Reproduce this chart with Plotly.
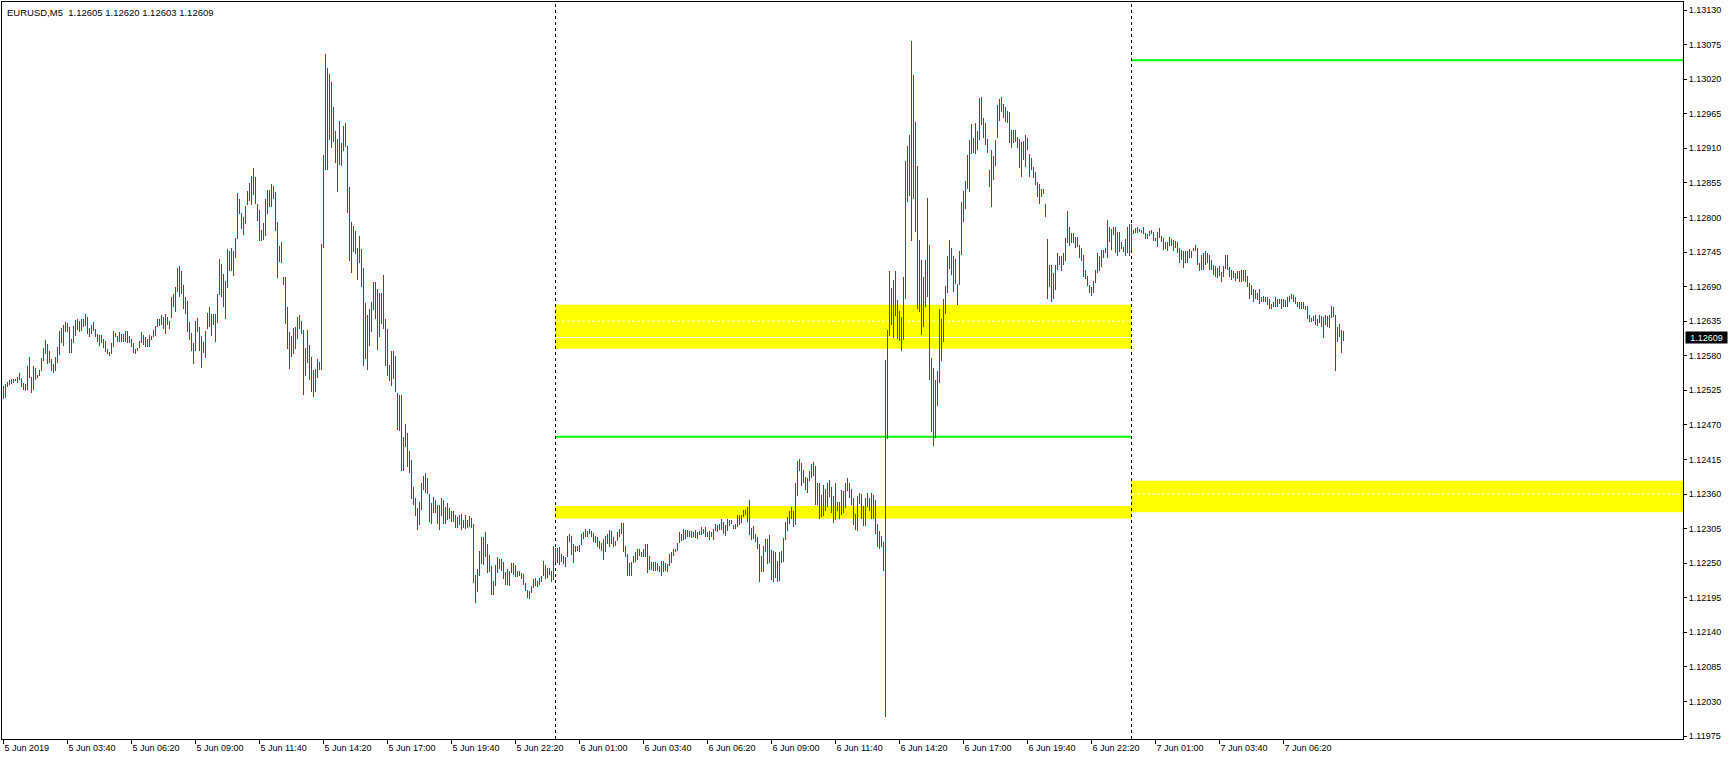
import plotly.graph_objects as go

# ---------------- data ----------------
symbol = "EURUSD,M5"
last_ohlc = [1.12605, 1.12620, 1.12603, 1.12609]   # open, high, low, close of last bar

# 5 Jun 2019 01:00 ... 23:55 (M5 bars)
day5_high = [
 1.12532,1.12535,1.12538,1.12541,1.12543,1.12543,1.12543,1.12546,1.12553,1.12544,
 1.12537,1.12535,1.12564,1.12578,1.12546,1.12564,1.12560,1.12550,1.12557,1.12576,
 1.12592,1.12605,1.12599,1.12587,1.12574,1.12567,1.12578,1.12594,1.12619,1.12624,
 1.12629,1.12634,1.12632,1.12625,1.12607,1.12627,1.12637,1.12638,1.12635,1.12638,
 1.12639,1.12646,1.12642,1.12624,1.12629,1.12634,1.12622,1.12615,1.12613,1.12613,
 1.12606,1.12603,1.12591,1.12586,1.12601,1.12619,1.12616,1.12611,1.12618,1.12614,
 1.12615,1.12619,1.12619,1.12611,1.12606,1.12601,1.12590,1.12592,1.12603,1.12618,
 1.12613,1.12609,1.12607,1.12613,1.12611,1.12621,1.12627,1.12638,1.12638,1.12645,
 1.12642,1.12646,1.12642,1.12635,1.12674,1.12678,1.12690,1.12720,1.12722,1.12715,
 1.12693,1.12674,1.12667,1.12634,1.12616,1.12600,1.12635,1.12640,1.12626,1.12612,
 1.12602,1.12619,1.12648,1.12657,1.12646,1.12647,1.12647,1.12678,1.12734,1.12726,
 1.12710,1.12699,1.12750,1.12746,1.12751,1.12746,1.12767,1.12839,1.12829,1.12807,
 1.12801,1.12818,1.12842,1.12855,1.12866,1.12878,1.12865,1.12822,1.12812,1.12780,
 1.12791,1.12830,1.12843,1.12844,1.12853,1.12850,1.12840,1.12792,1.12754,1.12761,
 1.12706,1.12706,1.12658,1.12618,1.12612,1.12624,1.12626,1.12642,1.12644,1.12635,
 1.12621,1.12592,1.12621,1.12597,1.12578,1.12557,1.12559,1.12575,1.12570,1.12758,
 1.12899,1.13060,1.13038,1.13028,1.13015,1.12976,1.12938,1.12924,1.12954,1.12919,
 1.12945,1.12951,1.12913,1.12849,1.12792,1.12787,1.12779,1.12751,1.12770,1.12749,
 1.12720,1.12664,1.12645,1.12655,1.12666,1.12697,1.12697,1.12686,1.12679,1.12679,
 1.12708,1.12639,1.12622,1.12565,1.12587,1.12588,1.12580,1.12521,1.12517,1.12517,
 1.12451,1.12471,1.12457,1.12429,1.12414,1.12371,1.12353,1.12338,1.12348,1.12377,
 1.12388,1.12394,1.12385,1.12360,1.12346,1.12356,1.12350,1.12342,1.12342,1.12353,
 1.12350,1.12339,1.12346,1.12338,1.12333,1.12333,1.12327,1.12324,1.12326,1.12328,
 1.12319,1.12326,1.12319,1.12325,1.12322,1.12313,1.12231,1.12240,1.12269,1.12291,
 1.12291,1.12299,1.12280,1.12263,1.12245,1.12222,1.12247,1.12260,1.12256,1.12256,
 1.12252,1.12236,1.12240,1.12237,1.12251,1.12250,1.12247,1.12238,1.12237,1.12234,
 1.12232,1.12219,1.12207,1.12206,1.12214,1.12225,1.12226,1.12222,1.12227,1.12230,
 1.12253,1.12247,1.12243,1.12243,1.12237,1.12277,
]
day5_low = [
 1.12511,1.12512,1.12530,1.12533,1.12535,1.12536,1.12539,1.12536,1.12541,1.12530,
 1.12525,1.12524,1.12525,1.12544,1.12521,1.12526,1.12541,1.12545,1.12548,1.12555,
 1.12571,1.12583,1.12567,1.12568,1.12556,1.12553,1.12556,1.12569,1.12581,1.12601,
 1.12595,1.12617,1.12617,1.12584,1.12584,1.12601,1.12612,1.12621,1.12617,1.12619,
 1.12626,1.12627,1.12615,1.12609,1.12615,1.12620,1.12609,1.12602,1.12595,1.12601,
 1.12593,1.12586,1.12582,1.12580,1.12583,1.12594,1.12609,1.12602,1.12602,1.12602,
 1.12602,1.12602,1.12601,1.12601,1.12594,1.12584,1.12582,1.12587,1.12593,1.12601,
 1.12597,1.12594,1.12594,1.12594,1.12605,1.12609,1.12612,1.12626,1.12627,1.12629,
 1.12622,1.12614,1.12629,1.12623,1.12640,1.12658,1.12650,1.12681,1.12674,1.12678,
 1.12655,1.12647,1.12617,1.12605,1.12588,1.12567,1.12588,1.12617,1.12588,1.12561,
 1.12584,1.12577,1.12622,1.12626,1.12612,1.12629,1.12602,1.12632,1.12677,1.12674,
 1.12658,1.12638,1.12688,1.12715,1.12715,1.12707,1.12736,1.12766,1.12805,1.12782,
 1.12772,1.12790,1.12819,1.12826,1.12820,1.12835,1.12821,1.12795,1.12762,1.12763,
 1.12764,1.12771,1.12806,1.12817,1.12817,1.12829,1.12779,1.12704,1.12729,1.12728,
 1.12693,1.12631,1.12591,1.12559,1.12578,1.12582,1.12591,1.12607,1.12622,1.12615,
 1.12518,1.12547,1.12568,1.12541,1.12523,1.12515,1.12523,1.12545,1.12557,1.12558,
 1.12752,1.12876,1.12876,1.12923,1.12910,1.12920,1.12886,1.12840,1.12883,1.12882,
 1.12906,1.12912,1.12807,1.12731,1.12711,1.12745,1.12742,1.12700,1.12727,1.12690,
 1.12564,1.12575,1.12558,1.12595,1.12618,1.12652,1.12638,1.12589,1.12610,1.12631,
 1.12623,1.12564,1.12547,1.12540,1.12532,1.12543,1.12522,1.12462,1.12461,1.12397,
 1.12396,1.12434,1.12403,1.12393,1.12352,1.12342,1.12325,1.12302,1.12310,1.12334,
 1.12366,1.12362,1.12360,1.12315,1.12312,1.12330,1.12329,1.12313,1.12302,1.12325,
 1.12313,1.12313,1.12319,1.12321,1.12316,1.12316,1.12306,1.12306,1.12310,1.12302,
 1.12306,1.12304,1.12306,1.12307,1.12306,1.12218,1.12187,1.12204,1.12230,1.12249,
 1.12247,1.12260,1.12235,1.12236,1.12199,1.12199,1.12214,1.12234,1.12240,1.12238,
 1.12225,1.12216,1.12215,1.12213,1.12234,1.12231,1.12228,1.12228,1.12230,1.12225,
 1.12216,1.12206,1.12194,1.12193,1.12203,1.12211,1.12213,1.12212,1.12216,1.12220,
 1.12230,1.12225,1.12226,1.12231,1.12220,1.12223,
]

# 6 Jun 2019 00:00 ... 23:55
day6_high = [
 1.12274,1.12274,1.12276,1.12265,1.12261,1.12259,1.12293,1.12296,1.12293,1.12280,
 1.12278,1.12278,1.12279,1.12296,1.12300,1.12304,1.12301,1.12304,1.12301,1.12298,
 1.12293,1.12291,1.12285,1.12282,1.12289,1.12293,1.12296,1.12303,1.12301,1.12291,
 1.12285,1.12299,1.12305,1.12314,1.12314,1.12277,1.12264,1.12250,1.12252,1.12262,
 1.12268,1.12272,1.12273,1.12268,1.12272,1.12281,1.12280,1.12261,1.12252,1.12252,
 1.12252,1.12250,1.12245,1.12253,1.12253,1.12251,1.12248,1.12264,1.12267,1.12273,
 1.12273,1.12282,1.12299,1.12296,1.12304,1.12303,1.12303,1.12301,1.12301,1.12300,
 1.12303,1.12300,1.12301,1.12307,1.12304,1.12307,1.12300,1.12301,1.12300,1.12304,
 1.12312,1.12310,1.12312,1.12320,1.12316,1.12310,1.12320,1.12318,1.12318,1.12310,
 1.12312,1.12326,1.12326,1.12327,1.12334,1.12334,1.12339,1.12350,1.12306,1.12309,
 1.12297,1.12292,1.12280,1.12261,1.12278,1.12289,1.12289,1.12295,1.12271,1.12270,
 1.12268,1.12254,1.12268,1.12270,1.12290,1.12315,1.12323,1.12333,1.12339,1.12333,
 1.12377,1.12413,1.12416,1.12410,1.12398,1.12387,1.12385,1.12397,1.12407,1.12411,
 1.12404,1.12377,1.12377,1.12358,1.12374,1.12368,1.12378,1.12382,1.12371,1.12357,
 1.12378,1.12348,1.12348,1.12366,1.12365,1.12378,1.12386,1.12377,1.12368,1.12353,
 1.12328,1.12357,1.12361,1.12360,1.12341,1.12353,1.12361,1.12354,1.12361,1.12359,
 1.12350,1.12313,1.12301,1.12293,1.12284,1.12573,1.12621,1.12715,1.12688,1.12701,
 1.12715,1.12668,1.12651,1.12641,1.12705,1.12889,1.12913,1.12931,1.13081,1.13026,
 1.12952,1.12882,1.12764,1.12732,1.12706,1.12732,1.12831,1.12756,1.12576,1.12560,
 1.12542,1.12555,1.12655,1.12638,1.12670,1.12691,1.12739,1.12764,1.12752,1.12738,
 1.12734,1.12694,1.12747,1.12824,1.12842,1.12858,1.12899,1.12923,1.12949,1.12927,
 1.12950,1.12937,1.12990,1.12992,1.12958,1.12951,1.12924,1.12875,1.12908,1.12898,
 1.12923,1.12979,1.12988,1.12992,1.12981,1.12975,1.12970,1.12967,1.12939,1.12939,
 1.12939,1.12928,1.12924,1.12920,1.12922,1.12931,1.12926,1.12901,1.12894,1.12881,
 1.12873,1.12857,1.12853,1.12845,1.12846,1.12822,1.12766,1.12724,1.12724,1.12711,
 1.12724,1.12743,1.12739,1.12738,1.12744,1.12767,1.12810,1.12785,1.12776,1.12776,
 1.12769,1.12769,1.12756,1.12751,1.12740,1.12716,1.12707,1.12692,1.12690,1.12699,
 1.12717,1.12743,1.12739,1.12748,1.12748,1.12751,1.12796,1.12784,1.12782,1.12785,
 1.12785,1.12777,1.12777,1.12761,1.12753,1.12766,1.12785,1.12789,
]
day6_low = [
 1.12250,1.12250,1.12247,1.12252,1.12248,1.12244,1.12260,1.12284,1.12263,1.12251,
 1.12267,1.12270,1.12268,1.12279,1.12288,1.12292,1.12291,1.12296,1.12291,1.12284,
 1.12282,1.12276,1.12273,1.12270,1.12255,1.12267,1.12281,1.12275,1.12281,1.12276,
 1.12278,1.12286,1.12291,1.12297,1.12268,1.12260,1.12230,1.12230,1.12229,1.12251,
 1.12252,1.12255,1.12261,1.12260,1.12260,1.12260,1.12234,1.12239,1.12239,1.12237,
 1.12238,1.12238,1.12236,1.12230,1.12236,1.12238,1.12236,1.12245,1.12251,1.12262,
 1.12268,1.12269,1.12282,1.12285,1.12287,1.12288,1.12292,1.12292,1.12290,1.12292,
 1.12290,1.12288,1.12294,1.12295,1.12297,1.12292,1.12292,1.12287,1.12292,1.12287,
 1.12301,1.12300,1.12303,1.12303,1.12297,1.12293,1.12301,1.12309,1.12312,1.12305,
 1.12305,1.12308,1.12310,1.12314,1.12323,1.12326,1.12316,1.12295,1.12287,1.12289,
 1.12284,1.12272,1.12220,1.12236,1.12236,1.12267,1.12248,1.12250,1.12223,1.12220,
 1.12227,1.12220,1.12221,1.12250,1.12252,1.12287,1.12301,1.12313,1.12320,1.12308,
 1.12310,1.12357,1.12396,1.12373,1.12378,1.12366,1.12362,1.12381,1.12386,1.12388,
 1.12342,1.12342,1.12321,1.12323,1.12325,1.12333,1.12340,1.12356,1.12330,1.12314,
 1.12318,1.12333,1.12321,1.12326,1.12329,1.12337,1.12365,1.12353,1.12342,1.12310,
 1.12303,1.12301,1.12344,1.12321,1.12309,1.12309,1.12340,1.12333,1.12320,1.12320,
 1.12297,1.12275,1.12272,1.12276,1.12238,1.12005,1.12447,1.12612,1.12629,1.12608,
 1.12643,1.12606,1.12604,1.12588,1.12605,1.12671,1.12824,1.12834,1.12763,1.12829,
 1.12777,1.12655,1.12649,1.12613,1.12626,1.12657,1.12674,1.12542,1.12459,1.12436,
 1.12449,1.12500,1.12536,1.12572,1.12602,1.12646,1.12680,1.12718,1.12708,1.12682,
 1.12694,1.12661,1.12693,1.12740,1.12792,1.12813,1.12845,1.12840,1.12901,1.12902,
 1.12901,1.12907,1.12923,1.12947,1.12926,1.12916,1.12903,1.12849,1.12817,1.12860,
 1.12882,1.12926,1.12954,1.12968,1.12958,1.12952,1.12951,1.12919,1.12910,1.12918,
 1.12920,1.12910,1.12879,1.12865,1.12891,1.12881,1.12907,1.12865,1.12875,1.12862,
 1.12852,1.12833,1.12822,1.12833,1.12838,1.12801,1.12670,1.12690,1.12665,1.12671,
 1.12685,1.12716,1.12724,1.12715,1.12724,1.12731,1.12759,1.12755,1.12760,1.12760,
 1.12751,1.12753,1.12735,1.12731,1.12706,1.12702,1.12691,1.12679,1.12675,1.12679,
 1.12695,1.12712,1.12715,1.12721,1.12736,1.12743,1.12736,1.12761,1.12748,1.12772,
 1.12744,1.12738,1.12745,1.12749,1.12745,1.12739,1.12744,1.12739,
]

# 7 Jun 2019 00:00 ... 08:50
day7_high = [
 1.12789,1.12780,1.12783,1.12784,1.12782,1.12780,1.12784,1.12776,1.12773,1.12778,
 1.12780,1.12777,1.12767,1.12777,1.12783,1.12771,1.12767,1.12761,1.12761,1.12769,
 1.12765,1.12764,1.12763,1.12761,1.12751,1.12748,1.12746,1.12746,1.12746,1.12749,
 1.12746,1.12752,1.12756,1.12751,1.12727,1.12741,1.12744,1.12746,1.12744,1.12740,
 1.12732,1.12724,1.12722,1.12719,1.12723,1.12713,1.12723,1.12740,1.12740,1.12721,
 1.12716,1.12714,1.12711,1.12715,1.12715,1.12716,1.12716,1.12716,1.12707,1.12696,
 1.12693,1.12686,1.12685,1.12680,1.12686,1.12674,1.12675,1.12674,1.12674,1.12670,
 1.12663,1.12665,1.12674,1.12670,1.12671,1.12670,1.12671,1.12669,1.12674,1.12675,
 1.12678,1.12677,1.12674,1.12666,1.12666,1.12665,1.12665,1.12659,1.12659,1.12645,
 1.12640,1.12643,1.12645,1.12638,1.12645,1.12643,1.12641,1.12645,1.12643,1.12645,
 1.12659,1.12658,1.12645,1.12626,1.12631,1.12621,1.12620,
]
day7_low = [
 1.12748,1.12774,1.12776,1.12775,1.12777,1.12775,1.12774,1.12765,1.12765,1.12770,
 1.12774,1.12763,1.12762,1.12753,1.12767,1.12761,1.12748,1.12749,1.12747,1.12755,
 1.12755,1.12747,1.12752,1.12743,1.12728,1.12732,1.12720,1.12727,1.12727,1.12735,
 1.12735,1.12746,1.12746,1.12724,1.12714,1.12716,1.12716,1.12725,1.12727,1.12716,
 1.12716,1.12708,1.12706,1.12703,1.12707,1.12698,1.12706,1.12718,1.12716,1.12706,
 1.12701,1.12703,1.12699,1.12702,1.12698,1.12698,1.12699,1.12698,1.12689,1.12670,
 1.12677,1.12665,1.12670,1.12668,1.12663,1.12665,1.12666,1.12665,1.12661,1.12654,
 1.12654,1.12658,1.12658,1.12658,1.12663,1.12655,1.12657,1.12658,1.12658,1.12665,
 1.12670,1.12665,1.12662,1.12657,1.12655,1.12654,1.12655,1.12653,1.12638,1.12633,
 1.12633,1.12636,1.12629,1.12627,1.12632,1.12625,1.12608,1.12629,1.12626,1.12624,
 1.12640,1.12641,1.12556,1.12602,1.12610,1.12584,1.12603,
]

x_tick_labels = [
 "5 Jun 2019", "5 Jun 03:40", "5 Jun 06:20", "5 Jun 09:00", "5 Jun 11:40",
 "5 Jun 14:20", "5 Jun 17:00", "5 Jun 19:40", "5 Jun 22:20", "6 Jun 01:00",
 "6 Jun 03:40", "6 Jun 06:20", "6 Jun 09:00", "6 Jun 11:40", "6 Jun 14:20",
 "6 Jun 17:00", "6 Jun 19:40", "6 Jun 22:20", "7 Jun 01:00", "7 Jun 03:40",
 "7 Jun 06:20",
]
y_tick_labels = [
 "1.13130", "1.13075", "1.13020", "1.12965", "1.12910", "1.12855", "1.12800",
 "1.12745", "1.12690", "1.12635", "1.12580", "1.12525", "1.12470", "1.12415",
 "1.12360", "1.12305", "1.12250", "1.12195", "1.12140", "1.12085", "1.12030",
 "1.11975",
]

# supply / demand zones  (price low, price high) per day
day6_zones = [(1.12591, 1.12661), (1.12321, 1.12341)]
day7_zones = [(1.12331, 1.12381)]
day6_level = 1.12451
day7_level = 1.13050

# ---------------- build ----------------
highs = day5_high + day6_high + day7_high
lows = day5_low + day6_low + day7_low
assert len(highs) == len(lows)
n = len(highs)
day6_start = len(day5_high)
day7_start = day6_start + len(day6_high)

bars_per_label = 32
x_min, x_max = -0.75, 839.75
y_min, y_max = 1.1197023, 1.1314273

fig = go.Figure()
# each M5 bar drawn as a thin high-low bar (1 px wide, snapped to pixels)
fig.add_trace(go.Bar(
    x=list(range(n)),
    base=lows,
    y=[h - l for h, l in zip(highs, lows)],
    width=0.5,
    marker=dict(color="#ee0000", line=dict(width=0)),
    hoverinfo="skip", showlegend=False,
))

# all shapes use data refs so they share one layer and keep their order
shapes = []
# yellow zones
for lo, hi in day6_zones:
    shapes.append(dict(type="rect", xref="x", yref="y", layer="below",
                       x0=day6_start - 0.25, x1=day7_start - 0.25, y0=lo, y1=hi,
                       fillcolor="#ffff00", line=dict(width=0)))
for lo, hi in day7_zones:
    shapes.append(dict(type="rect", xref="x", yref="y", layer="below",
                       x0=day7_start - 0.25, x1=x_max, y0=lo, y1=hi,
                       fillcolor="#ffff00", line=dict(width=0)))
# white dotted grid (only visible over the zones)
for t in y_tick_labels:
    shapes.append(dict(type="line", xref="x", yref="y", layer="below",
                       x0=x_min, x1=x_max, y0=float(t), y1=float(t),
                       line=dict(color="white", width=1, dash="3px,2px")))
# bid line (white)
shapes.append(dict(type="line", xref="x", yref="y", layer="below",
                   x0=x_min, x1=x_max, y0=last_ohlc[3], y1=last_ohlc[3],
                   line=dict(color="white", width=1)))
# green levels
shapes.append(dict(type="line", xref="x", yref="y", layer="below",
                   x0=day6_start - 0.25, x1=day7_start - 0.25, y0=day6_level, y1=day6_level,
                   line=dict(color="#00ff00", width=2)))
shapes.append(dict(type="line", xref="x", yref="y", layer="below",
                   x0=day7_start - 0.25, x1=x_max, y0=day7_level, y1=day7_level,
                   line=dict(color="#00ff00", width=2)))
# period separators
for d in (day6_start, day7_start):
    shapes.append(dict(type="line", xref="x", yref="y", layer="below",
                       x0=d, x1=d, y0=y_min, y1=y_max,
                       line=dict(color="black", width=1, dash="3px,3px")))

font_family = "Liberation Sans, Arial, sans-serif"

annotations = [
    dict(xref="paper", yref="paper", x=0, y=1, xanchor="left", yanchor="top",
         xshift=3, yshift=-3, showarrow=False,
         text=f"{symbol}\u00a0\u00a0" + " ".join(f"{v:.5f}" for v in last_ohlc),
         font=dict(family=font_family, size=9.5, color="black")),
    dict(xref="paper", yref="y", x=1, y=last_ohlc[3], xanchor="left", yanchor="middle",
         xshift=2, showarrow=False, text=f"{last_ohlc[3]:.5f}",
         bgcolor="black", borderpad=1, width=39, height=9,
         font=dict(family=font_family, size=9, color="white")),
]

fig.update_layout(
    width=1729, height=760,
    margin=dict(l=2, r=46, t=2, b=21, pad=0),
    paper_bgcolor="white", plot_bgcolor="white",
    shapes=shapes, annotations=annotations,
    showlegend=False, bargap=0,
    xaxis=dict(range=[x_min, x_max], showgrid=False, zeroline=False,
               tickmode="array",
               tickvals=[k * bars_per_label for k in range(len(x_tick_labels))],
               ticktext=x_tick_labels,
               ticks="outside", ticklen=4, tickwidth=1, tickcolor="black",
               ticklabelposition="outside right",
               showline=True, linecolor="black", linewidth=1, mirror=True,
               tickfont=dict(family=font_family, size=9, color="black")),
    yaxis=dict(range=[y_min, y_max], side="right", showgrid=False, zeroline=False,
               tickmode="array",
               tickvals=[float(t) for t in y_tick_labels], ticktext=y_tick_labels,
               ticks="outside", ticklen=3, tickwidth=1, tickcolor="black",
               showline=True, linecolor="black", linewidth=1, mirror=True,
               tickfont=dict(family=font_family, size=9, color="black")),
)

fig.write_html(
    "out.html",
    config={"displayModeBar": False},
    post_script="document.body.style.margin='0';document.body.style.overflow='hidden';",
)
